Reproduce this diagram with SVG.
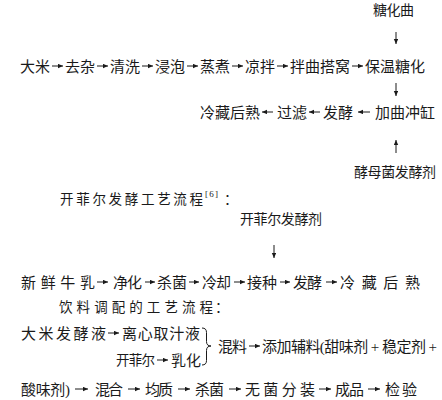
<svg xmlns="http://www.w3.org/2000/svg" width="442" height="400" viewBox="0 0 442 400">
<style>
.t{font-family:"Liberation Serif","Noto Sans CJK SC",serif;fill:#1a1a1a;}
.f15{font-size:15px}.f14{font-size:14px}.f13{font-size:13.5px}
#connectors line{stroke:#1a1a1a;stroke-width:1;marker-end:url(#ah);}
</style>
<defs>
<marker id="ah" markerUnits="userSpaceOnUse" markerWidth="6" markerHeight="6" refX="5" refY="2.2" orient="auto"><path d="M0,0 L5,2.2 L0,4.4 z" fill="#1a1a1a"/></marker>
</defs>
<rect width="442" height="400" fill="#fff"/>
<g id="connectors">
<line x1="396" y1="32" x2="396" y2="44"/>
<line x1="52" y1="66" x2="63" y2="66"/>
<line x1="97" y1="66" x2="108" y2="66"/>
<line x1="142" y1="66" x2="153" y2="66"/>
<line x1="187" y1="66" x2="198" y2="66"/>
<line x1="232" y1="66" x2="243" y2="66"/>
<line x1="277" y1="66" x2="288" y2="66"/>
<line x1="352" y1="66" x2="363" y2="66"/>
<line x1="396" y1="83" x2="396" y2="96"/>
<line x1="273" y1="112" x2="262" y2="112"/>
<line x1="320" y1="112" x2="309" y2="112"/>
<line x1="370" y1="112" x2="358" y2="112"/>
<line x1="396" y1="153" x2="396" y2="140"/>
<line x1="274" y1="245" x2="274" y2="258"/>
<line x1="97" y1="282" x2="108" y2="282"/>
<line x1="145" y1="282" x2="155" y2="282"/>
<line x1="189" y1="282" x2="199" y2="282"/>
<line x1="234" y1="282" x2="245" y2="282"/>
<line x1="280" y1="282" x2="290" y2="282"/>
<line x1="326" y1="282" x2="337" y2="282"/>
<line x1="108" y1="333" x2="119" y2="333"/>
<line x1="157" y1="360" x2="168" y2="360"/>
<line x1="249" y1="346" x2="260" y2="346"/>
<line x1="75" y1="389" x2="88" y2="389"/>
<line x1="128" y1="389" x2="140" y2="389"/>
<line x1="178" y1="389" x2="190" y2="389"/>
<line x1="229" y1="389" x2="241" y2="389"/>
<line x1="319" y1="389" x2="331" y2="389"/>
<line x1="368" y1="389" x2="380" y2="389"/>
<path d="M202,328 q4.5,0 4.5,4.5 v9 q0,4.5 4.5,4.5 q-4.5,0 -4.5,4.5 v10 q0,4.5 -4.5,4.5" fill="none" stroke="#1a1a1a" stroke-width="1"/>
</g>
<g id="n-tanghuaqu"><text class="t f14" x="373" y="15.2" textLength="41" lengthAdjust="spacing">糖化曲</text></g>
<g id="n-dami"><text class="t f15" x="20" y="71.5" textLength="30" lengthAdjust="spacing">大米</text></g>
<g id="n-quza"><text class="t f15" x="65" y="71.5" textLength="30" lengthAdjust="spacing">去杂</text></g>
<g id="n-qingxi"><text class="t f15" x="110" y="71.5" textLength="30" lengthAdjust="spacing">清洗</text></g>
<g id="n-jinpao"><text class="t f15" x="155" y="71.5" textLength="30" lengthAdjust="spacing">浸泡</text></g>
<g id="n-zhengzhu"><text class="t f15" x="200" y="71.5" textLength="30" lengthAdjust="spacing">蒸煮</text></g>
<g id="n-liangban"><text class="t f15" x="245" y="71.5" textLength="30" lengthAdjust="spacing">凉拌</text></g>
<g id="n-banqu"><text class="t f15" x="290" y="71.5" textLength="60" lengthAdjust="spacing">拌曲搭窝</text></g>
<g id="n-baowen"><text class="t f15" x="365" y="71.5" textLength="60" lengthAdjust="spacing">保温糖化</text></g>
<g id="n-lengcang1"><text class="t f15" x="200" y="117.5" textLength="60" lengthAdjust="spacing">冷藏后熟</text></g>
<g id="n-guolv"><text class="t f15" x="277" y="117.5" textLength="30" lengthAdjust="spacing">过滤</text></g>
<g id="n-fajiao1"><text class="t f15" x="323" y="117.5" textLength="30" lengthAdjust="spacing">发酵</text></g>
<g id="n-jiaqu"><text class="t f15" x="375" y="117.5" textLength="60" lengthAdjust="spacing">加曲冲缸</text></g>
<g id="n-jiaomu"><text class="t f14" x="354" y="177.2" textLength="82" lengthAdjust="spacing">酵母菌发酵剂</text></g>
<g id="n-title1"><text class="t f13" x="60" y="204" textLength="143" lengthAdjust="spacing">开菲尔发酵工艺流程</text><text class="t" x="205" y="197" style="font-size:9px" textLength="13" lengthAdjust="spacing">[6]</text><text class="t f14" x="224" y="204.2">：</text></g>
<g id="n-kefirstarter"><text class="t f14" x="240" y="224.2" textLength="82" lengthAdjust="spacing">开菲尔发酵剂</text></g>
<g id="n-xianxian"><text class="t f15" x="21" y="287.5" textLength="74" lengthAdjust="spacing">新鲜牛乳</text></g>
<g id="n-jinghua"><text class="t f15" x="113" y="287.5" textLength="29" lengthAdjust="spacing">净化</text></g>
<g id="n-shajun1"><text class="t f15" x="157" y="287.5" textLength="30" lengthAdjust="spacing">杀菌</text></g>
<g id="n-lengque"><text class="t f15" x="202" y="287.5" textLength="29" lengthAdjust="spacing">冷却</text></g>
<g id="n-jiezhong"><text class="t f15" x="247" y="287.5" textLength="30" lengthAdjust="spacing">接种</text></g>
<g id="n-fajiao2"><text class="t f15" x="293" y="287.5" textLength="29" lengthAdjust="spacing">发酵</text></g>
<g id="n-lengcang2"><text class="t f15" x="340" y="287.5" textLength="80" lengthAdjust="spacing">冷藏后熟</text></g>
<g id="n-title2"><text class="t f13" x="59" y="312" textLength="154" lengthAdjust="spacing">饮料调配的工艺流程</text><text class="t f14" x="215" y="312.2">：</text></g>
<g id="n-damiye"><text class="t f15" x="21" y="338.5" textLength="85" lengthAdjust="spacing">大米发酵液</text></g>
<g id="n-lixin"><text class="t f15" x="122" y="338.5" textLength="78" lengthAdjust="spacing">离心取汁液</text></g>
<g id="n-kefir"><text class="t f13" x="116" y="365" textLength="39" lengthAdjust="spacing">开菲尔</text></g>
<g id="n-ruhua"><text class="t f15" x="171" y="365.5" textLength="30" lengthAdjust="spacing">乳化</text></g>
<g id="n-hunliao"><text class="t f15" x="218" y="351.5" textLength="29" lengthAdjust="spacing">混料</text></g>
<g id="n-fuliao"><text class="t f15" x="262" y="351.5" textLength="175" lengthAdjust="spacing">添加辅料(甜味剂 + 稳定剂 +</text></g>
<g id="n-suanwei"><text class="t f15" x="21" y="394.5" textLength="49" lengthAdjust="spacing">酸味剂)</text></g>
<g id="n-hunhe"><text class="t f15" x="95" y="394.5" textLength="28" lengthAdjust="spacing">混合</text></g>
<g id="n-junzhi"><text class="t f15" x="145" y="394.5" textLength="28" lengthAdjust="spacing">均质</text></g>
<g id="n-shajun2"><text class="t f15" x="195" y="394.5" textLength="29" lengthAdjust="spacing">杀菌</text></g>
<g id="n-wujun"><text class="t f15" x="245" y="394.5" textLength="70" lengthAdjust="spacing">无菌分装</text></g>
<g id="n-chengpin"><text class="t f15" x="335" y="394.5" textLength="29" lengthAdjust="spacing">成品</text></g>
<g id="n-jianyan"><text class="t f15" x="385" y="394.5" textLength="32" lengthAdjust="spacing">检验</text></g>
</svg>
